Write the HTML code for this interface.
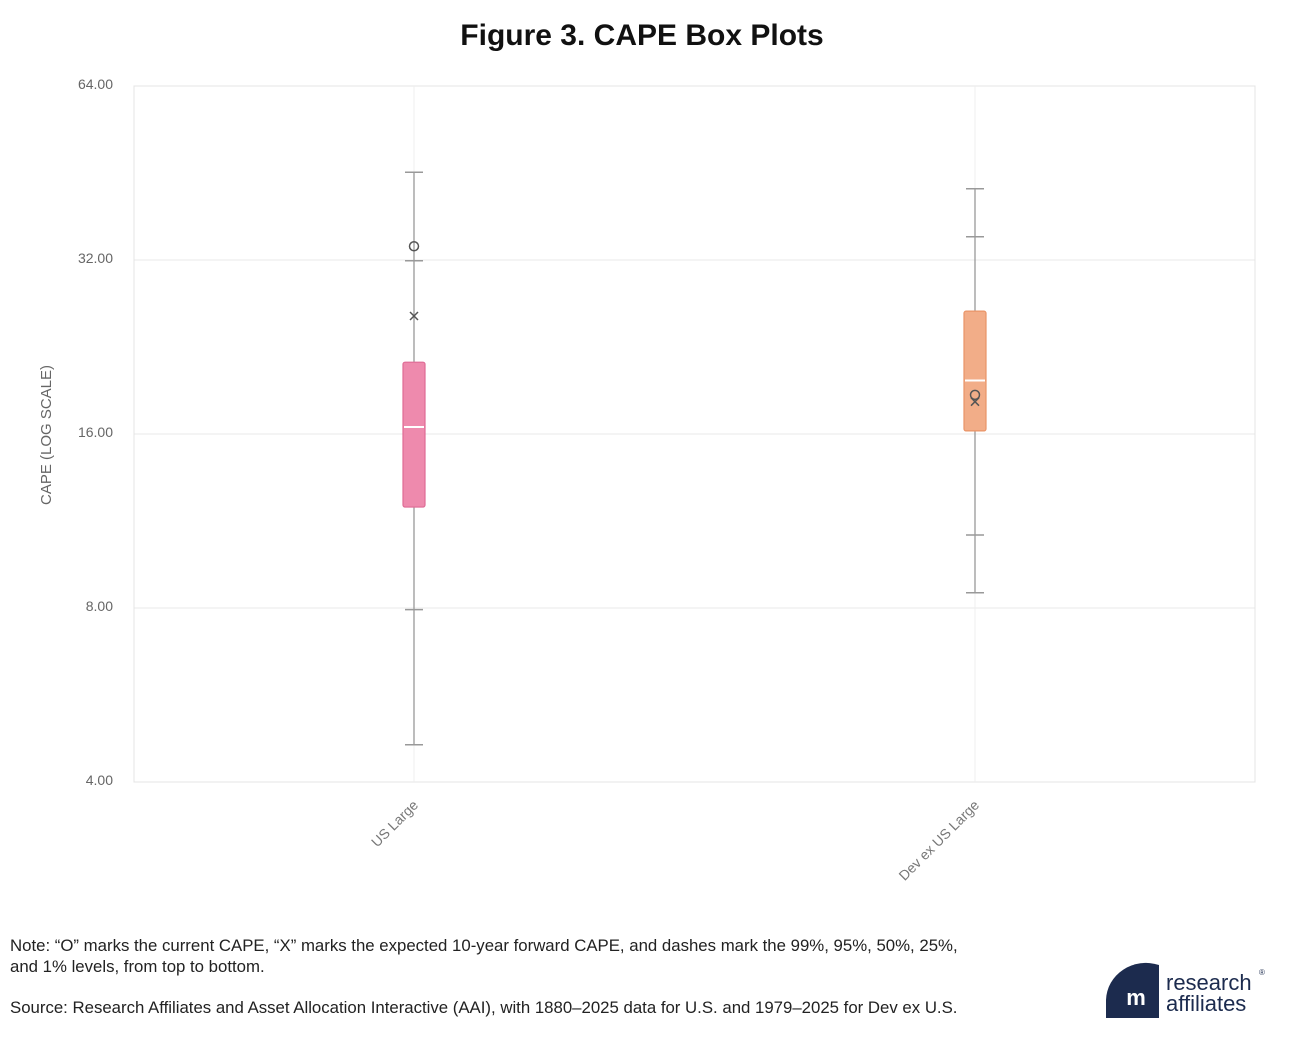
<!DOCTYPE html>
<html><head><meta charset="utf-8">
<style>
body{margin:0;background:#fff;width:1294px;height:1042px;overflow:hidden;font-family:"Liberation Sans",sans-serif;}
</style></head>
<body>
<svg width="1294" height="1042" xmlns="http://www.w3.org/2000/svg">
<text x="642" y="45" text-anchor="middle" font-size="30" font-weight="bold" fill="#111">Figure 3. CAPE Box Plots</text>
<g id="grid"></g>
<rect x="134" y="86" width="1121" height="696" fill="none" stroke="#e4e4e4"/>
<text transform="translate(51,435) rotate(-90)" text-anchor="middle" font-size="15" fill="#666">CAPE (LOG SCALE)</text>
<g id="boxes"></g>
<text x="10" y="951" font-size="16.8" fill="#222">Note: “O” marks the current CAPE, “X” marks the expected 10-year forward CAPE, and dashes mark the 99%, 95%, 50%, 25%,</text>
<text x="10" y="972" font-size="16.8" fill="#222">and 1% levels, from top to bottom.</text>
<text x="10" y="1013" font-size="16.8" fill="#222">Source: Research Affiliates and Asset Allocation Interactive (AAI), with 1880–2025 data for U.S. and 1979–2025 for Dev ex U.S.</text>
<g>
<path d="M1106,1018 L1106,1000 A40,38 0 0 1 1159,965 L1159,1018 Z" fill="#1c2b4e"/>
<text x="1136" y="1005" text-anchor="middle" font-size="22" font-weight="bold" fill="#fff">m</text>
<text x="1166" y="990" font-size="22" fill="#1c2b4e">research</text>
<text x="1166" y="1011" font-size="22" fill="#1c2b4e">affiliates</text>
<text x="1259" y="975" font-size="8" fill="#1c2b4e">®</text>
</g>
</svg>
<script>
const categories=["US Large","Dev ex US Large"];
const p99=[45.4,42.5];
const p95=[31.9,35.1];
const q3=[21.3,26.1];
const median=[16.45,19.8];
const q1=[11.96,16.2];
const p5=[7.95,10.7];
const p1=[4.64,8.5];
const current=[33.8,18.7];
const expected=[25.6,18.2];
const yTicks=[4,8,16,32,64];
const ns="http://www.w3.org/2000/svg";
const fills=["#ee8aad","#f2ad88"],strokes=["#df6b95","#e99467"];
function y(v){return 782-174*Math.log2(v/4);}
function x(i){return 414+i*561;}
function mk(t,a,p){const e=document.createElementNS(ns,t);for(const k in a)e.setAttribute(k,a[k]);p.appendChild(e);return e;}
const grid=document.getElementById('grid'),boxes=document.getElementById('boxes');
yTicks.forEach(v=>{
 const l=mk('line',{x1:134,x2:1255,y1:y(v),y2:y(v),stroke:'#e8e8e8'},grid);
 
 
 const t=mk('text',{x:113,y:y(v)+3,'text-anchor':'end','font-size':14,fill:'#666'},grid);
 t.textContent=v.toFixed(2);
 
 
});
categories.forEach((c,i)=>{
 const cx=x(i);
 const g=mk('g',{},boxes);
 
 
 mk('line',{x1:cx,x2:cx,y1:86,y2:782,stroke:'#efefef'},g);
 mk('line',{x1:cx,x2:cx,y1:y(p99[i]),y2:y(p1[i]),stroke:'#999','stroke-width':1.3},g);
 [p99,p95,p5,p1].forEach(a=>mk('line',{x1:cx-9,x2:cx+9,y1:y(a[i]),y2:y(a[i]),stroke:'#999','stroke-width':1.5},g));
 mk('rect',{x:cx-11,y:y(q3[i]),width:22,height:y(q1[i])-y(q3[i]),rx:2,fill:fills[i],stroke:strokes[i],'stroke-width':1.2},g);
 mk('line',{x1:cx-10,x2:cx+10,y1:y(median[i]),y2:y(median[i]),stroke:'#fff','stroke-width':2},g);
 mk('circle',{cx:cx,cy:y(current[i]),r:4.5,fill:'none',stroke:'#555','stroke-width':1.5},g);
 const ey=y(expected[i]);
 mk('path',{d:`M${cx-4},${ey-4}L${cx+4},${ey+4}M${cx+4},${ey-4}L${cx-4},${ey+4}`,stroke:'#555','stroke-width':1.5},g);
 const t=mk('text',{transform:`translate(${cx+5},${806}) rotate(-45)`,'text-anchor':'end','font-size':14,fill:'#777'},g);
 t.textContent=c;
 
 
});
</script>
</body></html>
